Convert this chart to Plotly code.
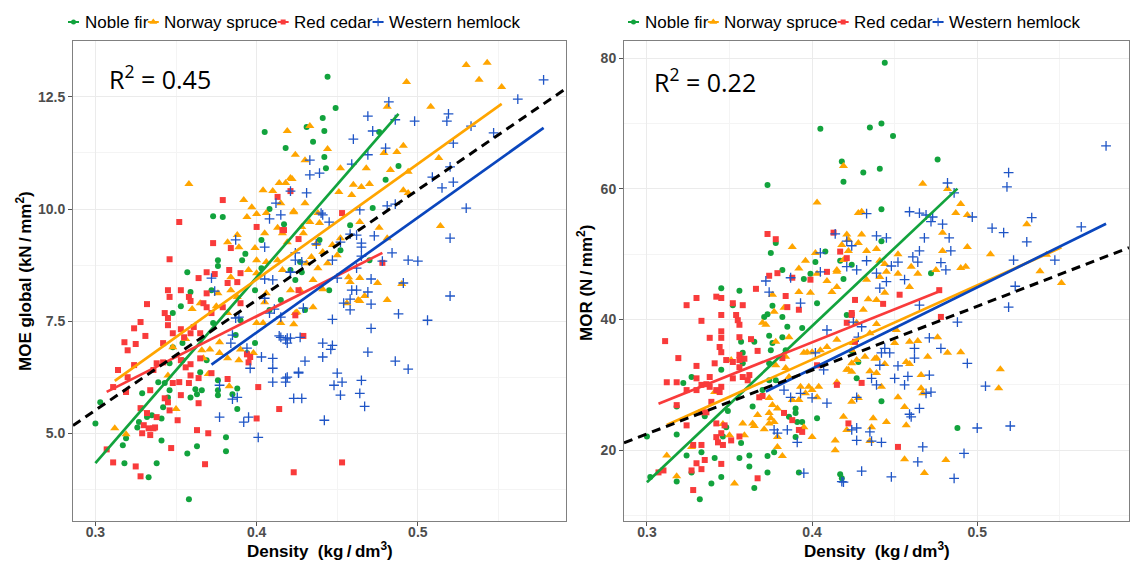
import plotly.graph_objects as go

# ---------------------------------------------------------------- data
SPECIES = ["Noble fir", "Norway spruce", "Red cedar", "Western hemlock"]

# density (kg/dm3) vs MOE global (kN/mm2)
moe_noble_fir = [
    (0.300, 5.22), (0.303, 5.69), (0.317, 4.73), (0.318, 4.33), (0.319, 4.89), (0.326, 5.13), (0.327, 5.25),
    (0.333, 4.02), (0.329, 5.89), (0.332, 5.36), (0.335, 5.40), (0.338, 4.33), (0.341, 4.84), (0.341, 5.33),
    (0.342, 5.58), (0.345, 5.80), (0.346, 5.96), (0.343, 6.12), (0.339, 6.14), (0.346, 6.56), (0.348, 6.92),
    (0.348, 7.68), (0.353, 7.83), (0.354, 6.63), (0.354, 7.01), (0.359, 5.80), (0.358, 3.53), (0.357, 4.55),
    (0.363, 4.71), (0.363, 5.87), (0.362, 5.98), (0.365, 6.36), (0.366, 5.96), (0.369, 6.63), (0.376, 6.18),
    (0.376, 5.96), (0.376, 5.85), (0.381, 4.91), (0.381, 4.60), (0.385, 5.87), (0.388, 6.00), (0.388, 5.54),
    (0.387, 7.19), (0.399, 7.01), (0.394, 6.79), (0.390, 7.52), (0.373, 7.46), (0.405, 11.72), (0.418, 11.36),
    (0.373, 9.84), (0.379, 9.82), (0.408, 10.00), (0.376, 8.86), (0.357, 8.59), (0.359, 8.15), (0.391, 8.86),
    (0.393, 9.00), (0.376, 8.73), (0.372, 8.19), (0.444, 12.95), (0.449, 12.25), (0.441, 12.03), (0.431, 11.83),
    (0.442, 11.74), (0.435, 11.50), (0.442, 11.16), (0.443, 10.91), (0.488, 10.96), (0.476, 11.72), (0.472, 10.02),
    (0.417, 9.66), (0.428, 8.59), (0.424, 8.42), (0.403, 8.68), (0.415, 7.97), (0.427, 8.82), (0.439, 9.31),
    (0.452, 9.08), (0.399, 8.19), (0.408, 7.75), (0.421, 8.64), (0.430, 7.75), (0.458, 9.64), (0.445, 8.19),
    (0.403, 9.31), (0.470, 8.86), (0.480, 10.65),
]
moe_norway_spruce = [
    (0.358, 10.56), (0.419, 11.74), (0.424, 11.21), (0.404, 10.42), (0.410, 10.40), (0.414, 10.58), (0.422, 10.67),
    (0.392, 10.20), (0.397, 10.04), (0.400, 9.89), (0.394, 9.82), (0.406, 9.91), (0.415, 10.13), (0.423, 9.95),
    (0.388, 9.42), (0.382, 9.26), (0.389, 9.15), (0.399, 9.13), (0.405, 9.46), (0.413, 9.58), (0.416, 9.46),
    (0.400, 8.86), (0.406, 8.82), (0.413, 8.86), (0.395, 8.64), (0.384, 8.48), (0.400, 8.57), (0.376, 8.12),
    (0.384, 8.19), (0.388, 8.04), (0.365, 7.90), (0.406, 8.12), (0.418, 10.58), (0.530, 13.21), (0.543, 13.26),
    (0.493, 12.83), (0.538, 12.88), (0.552, 12.72), (0.508, 12.28), (0.481, 12.28), (0.433, 11.85), (0.444, 11.34),
    (0.491, 11.41), (0.487, 11.27), (0.479, 11.25), (0.430, 11.09), (0.452, 10.91), (0.468, 10.91), (0.483, 10.87),
    (0.513, 11.14), (0.494, 10.83), (0.460, 10.54), (0.470, 10.56), (0.465, 10.49), (0.451, 10.38), (0.459, 10.31),
    (0.491, 10.42), (0.494, 10.36), (0.421, 10.69), (0.430, 10.13), (0.438, 9.91), (0.423, 9.93), (0.439, 9.69),
    (0.433, 9.71), (0.428, 9.60), (0.464, 9.71), (0.476, 9.58), (0.429, 9.46), (0.452, 9.35), (0.481, 9.35),
    (0.419, 9.26), (0.437, 9.22), (0.447, 9.20), (0.514, 9.62), (0.441, 9.04), (0.434, 8.93), (0.450, 8.97),
    (0.444, 8.79), (0.431, 8.79), (0.438, 8.68), (0.416, 8.64), (0.435, 8.42), (0.457, 8.48), (0.458, 8.37),
    (0.475, 8.35), (0.464, 8.46), (0.490, 8.33), (0.441, 8.21), (0.427, 8.19), (0.467, 8.06), (0.463, 7.97),
    (0.481, 7.97), (0.435, 7.81), (0.421, 8.19), (0.312, 5.11), (0.319, 4.98), (0.350, 5.54), (0.383, 6.05),
    (0.370, 6.32), (0.360, 7.77), (0.375, 7.83), (0.382, 7.68), (0.377, 7.03), (0.377, 6.79), (0.366, 6.85),
    (0.367, 6.67), (0.371, 6.87), (0.382, 6.67), (0.389, 6.63), (0.390, 6.87), (0.398, 6.79), (0.405, 7.92),
    (0.400, 7.46), (0.404, 7.46), (0.415, 7.46), (0.423, 7.43), (0.425, 7.70), (0.348, 6.92), (0.356, 7.10),
    (0.345, 6.29), (0.456, 7.90), (0.464, 7.95), (0.424, 7.68),
]
moe_red_cedar = [
    (0.379, 10.20), (0.352, 9.71), (0.373, 9.24), (0.346, 8.88), (0.384, 9.13), (0.400, 9.60), (0.413, 10.27),
    (0.416, 9.53), (0.421, 10.40), (0.369, 8.59), (0.374, 8.55), (0.383, 8.64), (0.364, 8.46), (0.382, 8.35),
    (0.388, 8.37), (0.390, 8.57), (0.353, 8.19), (0.345, 8.19), (0.346, 8.04), (0.358, 8.04), (0.359, 7.95),
    (0.332, 7.88), (0.367, 7.90), (0.369, 8.12), (0.379, 7.81), (0.390, 7.90), (0.343, 7.68), (0.345, 7.57),
    (0.345, 7.41), (0.348, 7.23), (0.353, 7.32), (0.355, 7.14), (0.359, 7.23), (0.361, 7.37), (0.365, 7.23),
    (0.328, 7.48), (0.324, 7.34), (0.331, 7.17), (0.325, 6.99), (0.318, 7.03), (0.320, 6.85), (0.324, 6.52),
    (0.314, 6.41), (0.311, 6.03), (0.320, 6.25), (0.319, 5.92), (0.338, 6.56), (0.342, 7.01), (0.336, 6.41),
    (0.334, 5.96), (0.342, 6.58), (0.348, 6.12), (0.352, 6.14), (0.343, 5.78), (0.345, 5.69), (0.346, 5.51),
    (0.328, 5.56), (0.332, 5.45), (0.338, 5.36), (0.330, 5.18), (0.333, 5.11), (0.336, 5.11), (0.334, 4.96),
    (0.329, 5.00), (0.337, 5.13), (0.351, 5.29), (0.347, 4.67), (0.307, 4.64), (0.311, 4.35), (0.325, 4.26),
    (0.328, 4.04), (0.363, 5.07), (0.370, 5.00), (0.368, 4.31), (0.401, 6.03), (0.400, 5.33), (0.414, 5.54),
    (0.364, 5.67), (0.353, 5.85), (0.358, 6.12), (0.359, 6.29), (0.364, 6.23), (0.372, 6.34), (0.382, 6.21),
    (0.394, 6.76), (0.395, 6.58), (0.396, 6.70), (0.372, 7.68), (0.369, 7.81), (0.365, 6.67), (0.353, 6.63),
    (0.356, 6.47), (0.359, 6.54), (0.453, 4.35), (0.423, 4.13), (0.429, 7.17), (0.424, 7.63), (0.453, 9.91),
    (0.417, 9.53), (0.426, 9.33), (0.426, 8.19), (0.478, 8.80),
]
moe_western_hemlock = [
    (0.421, 10.40), (0.412, 10.13), (0.415, 9.87), (0.408, 9.78), (0.387, 9.31), (0.405, 9.15), (0.372, 8.46),
    (0.374, 8.17), (0.405, 8.44), (0.410, 8.42), (0.424, 9.02), (0.424, 8.86), (0.421, 8.59), (0.405, 8.01),
    (0.578, 12.88), (0.562, 12.45), (0.519, 12.12), (0.518, 11.96), (0.498, 11.96), (0.486, 11.99), (0.482, 12.39),
    (0.469, 12.07), (0.472, 11.74), (0.460, 11.56), (0.533, 11.85), (0.547, 11.70), (0.522, 11.47), (0.480, 11.36),
    (0.469, 11.21), (0.433, 11.09), (0.459, 11.00), (0.439, 10.80), (0.433, 10.76), (0.520, 10.94), (0.509, 10.71),
    (0.515, 10.47), (0.522, 10.60), (0.431, 10.36), (0.481, 10.07), (0.486, 10.11), (0.464, 9.98), (0.530, 10.02),
    (0.440, 9.91), (0.441, 9.87), (0.445, 9.71), (0.458, 9.44), (0.462, 9.42), (0.473, 9.40), (0.465, 9.24),
    (0.465, 9.15), (0.437, 9.22), (0.452, 9.26), (0.520, 9.35), (0.484, 9.02), (0.465, 8.95), (0.447, 8.86),
    (0.428, 8.82), (0.478, 8.84), (0.494, 8.86), (0.500, 8.84), (0.421, 8.59), (0.462, 8.68), (0.450, 8.46),
    (0.471, 8.44), (0.491, 8.35), (0.520, 8.06), (0.459, 8.19), (0.462, 8.19), (0.469, 8.15), (0.458, 7.99),
    (0.454, 7.90), (0.471, 7.88), (0.429, 7.79), (0.488, 7.66), (0.506, 7.52), (0.471, 7.34), (0.458, 7.75),
    (0.447, 7.54), (0.441, 7.01), (0.447, 6.96), (0.446, 6.87), (0.441, 6.70), (0.469, 6.81), (0.486, 6.61),
    (0.494, 6.43), (0.430, 6.61), (0.426, 6.34), (0.419, 6.25), (0.418, 6.14), (0.450, 6.34), (0.448, 6.07),
    (0.453, 6.14), (0.465, 6.18), (0.464, 5.89), (0.452, 5.85), (0.423, 5.78), (0.428, 5.78), (0.467, 5.60),
    (0.442, 5.29), (0.419, 7.12), (0.415, 7.14), (0.427, 7.14), (0.419, 7.01), (0.384, 7.01), (0.394, 6.90),
    (0.396, 6.45), (0.403, 6.70), (0.410, 6.67), (0.410, 6.45), (0.410, 6.14), (0.418, 6.23), (0.426, 6.36),
    (0.421, 7.12), (0.418, 7.08), (0.414, 7.17), (0.408, 7.68), (0.411, 7.77), (0.415, 7.59), (0.377, 6.07),
    (0.385, 5.76), (0.388, 5.80), (0.377, 5.36), (0.395, 5.36), (0.392, 5.25), (0.401, 4.91), (0.385, 7.19),
    (0.389, 7.59), (0.387, 7.57),
]

# density (kg/dm3) vs MOR (N/mm2)
mor_noble_fir = [
    (0.405, 69.2), (0.418, 64.2), (0.419, 61.1), (0.373, 60.6), (0.378, 51.7), (0.375, 50.2), (0.408, 50.4),
    (0.402, 48.8), (0.382, 47.6), (0.395, 46.2), (0.399, 47.0), (0.417, 49.0), (0.419, 46.2), (0.424, 48.4),
    (0.345, 44.8), (0.444, 79.3), (0.435, 69.4), (0.442, 70.0), (0.449, 68.1), (0.476, 64.5), (0.431, 62.5),
    (0.441, 63.1), (0.442, 56.9), (0.442, 52.0), (0.472, 47.1), (0.300, 22.1), (0.302, 15.9), (0.318, 15.2),
    (0.318, 22.4), (0.318, 26.7), (0.324, 19.2), (0.327, 16.6), (0.333, 19.7), (0.332, 12.5), (0.335, 25.2),
    (0.339, 14.9), (0.322, 30.3), (0.327, 31.2), (0.345, 32.3), (0.349, 26.0), (0.348, 23.5), (0.345, 15.9),
    (0.341, 18.8), (0.346, 22.1), (0.356, 18.8), (0.357, 21.1), (0.362, 17.5), (0.362, 19.2), (0.364, 26.7),
    (0.365, 14.2), (0.357, 36.6), (0.358, 33.3), (0.358, 34.9), (0.352, 42.2), (0.356, 44.4), (0.365, 36.6),
    (0.371, 40.4), (0.373, 40.8), (0.374, 37.5), (0.375, 35.3), (0.374, 33.3), (0.374, 30.7), (0.378, 30.7),
    (0.370, 29.2), (0.373, 19.1), (0.377, 19.7), (0.373, 16.6), (0.386, 25.1), (0.391, 24.3), (0.394, 24.3),
    (0.403, 24.9), (0.390, 22.0), (0.392, 16.6), (0.390, 25.7), (0.376, 42.1), (0.382, 40.4), (0.385, 38.9),
    (0.382, 37.3), (0.384, 35.3), (0.376, 36.4), (0.390, 26.4), (0.394, 38.7), (0.403, 42.5), (0.421, 40.7),
    (0.417, 16.3), (0.418, 15.7), (0.442, 27.5), (0.488, 23.4), (0.428, 33.5), (0.424, 35.2), (0.427, 31.0),
]
mor_norway_spruce = [
    (0.419, 63.5), (0.403, 57.9), (0.421, 53.0), (0.422, 52.2), (0.428, 51.7), (0.418, 51.4), (0.388, 51.1),
    (0.402, 50.2), (0.422, 50.5), (0.396, 49.0), (0.392, 47.8), (0.415, 47.6), (0.403, 47.0), (0.415, 47.3),
    (0.419, 49.1), (0.409, 45.9), (0.415, 45.0), (0.428, 56.3), (0.467, 60.8), (0.482, 60.0), (0.490, 57.7),
    (0.487, 56.3), (0.494, 56.0), (0.430, 56.5), (0.530, 54.6), (0.430, 53.0), (0.479, 53.3), (0.433, 50.5),
    (0.439, 50.8), (0.452, 50.0), (0.479, 50.5), (0.494, 51.1), (0.508, 50.0), (0.441, 49.0), (0.444, 48.5),
    (0.460, 48.1), (0.475, 47.6), (0.490, 47.9), (0.493, 48.1), (0.538, 47.4), (0.542, 49.9), (0.445, 47.3),
    (0.441, 46.5), (0.452, 47.0), (0.464, 47.0), (0.551, 45.6), (0.459, 45.0), (0.433, 46.1), (0.444, 44.1),
    (0.434, 43.1), (0.439, 43.0), (0.431, 41.5), (0.439, 39.3), (0.435, 37.9), (0.424, 35.3), (0.425, 36.4),
    (0.450, 36.4), (0.451, 38.4), (0.459, 36.6), (0.464, 36.7), (0.476, 37.3), (0.482, 34.9), (0.490, 35.0),
    (0.470, 34.3), (0.457, 33.5), (0.459, 33.2), (0.439, 34.1), (0.438, 34.0), (0.444, 33.2), (0.432, 34.3),
    (0.427, 33.8), (0.422, 32.3), (0.435, 32.1), (0.439, 31.8), (0.442, 29.7), (0.466, 31.5), (0.466, 29.5),
    (0.467, 28.7), (0.452, 28.1), (0.456, 26.6), (0.428, 28.0), (0.424, 27.4), (0.437, 24.9), (0.436, 23.5),
    (0.445, 24.3), (0.457, 23.8), (0.435, 21.4), (0.456, 18.6), (0.468, 16.5), (0.481, 18.5), (0.514, 32.4),
    (0.513, 29.5), (0.312, 19.2), (0.318, 16.0), (0.327, 20.5), (0.346, 24.0), (0.350, 22.3), (0.353, 14.9),
    (0.341, 28.9), (0.351, 33.8), (0.358, 24.1), (0.364, 24.1), (0.365, 23.7), (0.359, 22.3), (0.367, 25.4),
    (0.371, 23.2), (0.374, 25.7), (0.375, 24.9), (0.374, 24.1), (0.377, 24.3), (0.379, 20.5), (0.382, 19.1),
    (0.379, 22.0), (0.370, 39.5), (0.372, 39.2), (0.377, 41.2), (0.383, 41.8), (0.386, 37.3), (0.378, 36.6),
    (0.384, 34.3), (0.378, 33.0), (0.384, 32.6), (0.386, 31.2), (0.388, 27.7), (0.374, 28.0), (0.376, 26.9),
    (0.379, 26.4), (0.393, 29.7), (0.392, 27.7), (0.398, 29.7), (0.396, 28.7), (0.400, 29.2), (0.403, 28.1),
    (0.404, 29.7), (0.397, 35.0), (0.395, 34.9), (0.400, 35.0), (0.405, 35.3), (0.400, 22.0), (0.395, 23.5),
    (0.415, 30.4), (0.415, 36.9), (0.409, 35.8), (0.421, 32.3), (0.424, 32.0), (0.424, 33.3), (0.427, 39.5),
    (0.419, 25.1), (0.421, 23.1), (0.414, 21.5), (0.414, 20.0), (0.376, 43.8), (0.392, 44.2), (0.399, 44.1),
    (0.412, 44.2),
]
mor_red_cedar = [
    (0.373, 53.1), (0.378, 52.3), (0.413, 53.3), (0.417, 50.4), (0.421, 49.4), (0.374, 46.7), (0.379, 47.1),
    (0.388, 46.4), (0.399, 46.1), (0.409, 47.3), (0.366, 44.7), (0.311, 36.7), (0.312, 30.4), (0.318, 30.4),
    (0.319, 34.1), (0.318, 26.9), (0.324, 29.2), (0.324, 42.2), (0.330, 43.3), (0.333, 39.8), (0.338, 37.2),
    (0.330, 32.9), (0.330, 31.0), (0.330, 29.2), (0.333, 30.0), (0.338, 31.2), (0.338, 29.7), (0.336, 30.1),
    (0.342, 29.2), (0.344, 28.9), (0.345, 29.7), (0.341, 33.3), (0.345, 35.0), (0.344, 35.8), (0.345, 37.2),
    (0.342, 43.5), (0.345, 43.3), (0.345, 40.7), (0.345, 38.2), (0.352, 42.5), (0.354, 40.7), (0.355, 39.9),
    (0.356, 39.2), (0.356, 37.3), (0.358, 42.2), (0.363, 37.0), (0.367, 35.2), (0.356, 34.6), (0.356, 33.8),
    (0.356, 32.7), (0.359, 34.0), (0.352, 33.5), (0.352, 31.0), (0.358, 31.2), (0.361, 30.7), (0.362, 31.5),
    (0.348, 33.8), (0.336, 25.8), (0.333, 25.8), (0.339, 27.4), (0.342, 24.1), (0.345, 22.6), (0.347, 23.8),
    (0.342, 22.0), (0.343, 21.2), (0.346, 20.8), (0.351, 21.5), (0.356, 22.1), (0.333, 20.8), (0.328, 20.8),
    (0.330, 18.0), (0.333, 17.1), (0.335, 18.5), (0.345, 17.9), (0.327, 16.9), (0.328, 13.9), (0.310, 16.9),
    (0.307, 16.6), (0.324, 23.8), (0.367, 15.7), (0.368, 28.1), (0.370, 28.3), (0.382, 34.1), (0.383, 25.7),
    (0.388, 24.6), (0.392, 23.1), (0.394, 22.8), (0.403, 33.0), (0.415, 30.0), (0.424, 41.0), (0.421, 39.5),
    (0.384, 43.6), (0.385, 41.9), (0.392, 41.5), (0.426, 43.0), (0.424, 40.7), (0.453, 43.8), (0.443, 42.4),
    (0.478, 40.4), (0.426, 36.6), (0.430, 30.3), (0.422, 24.1), (0.452, 20.5), (0.477, 44.5),
]
mor_western_hemlock = [
    (0.414, 53.1), (0.421, 52.0), (0.424, 51.3), (0.405, 50.2), (0.421, 48.1), (0.405, 47.3), (0.387, 46.4),
    (0.372, 45.9), (0.427, 47.6), (0.578, 66.6), (0.519, 62.5), (0.518, 60.3), (0.482, 60.9), (0.486, 59.4),
    (0.459, 56.5), (0.465, 56.3), (0.469, 56.0), (0.473, 55.7), (0.472, 55.0), (0.479, 54.6), (0.497, 55.7),
    (0.533, 55.6), (0.530, 51.9), (0.509, 54.0), (0.516, 53.3), (0.563, 54.2), (0.433, 56.2), (0.439, 52.8),
    (0.445, 52.5), (0.468, 52.5), (0.483, 52.5), (0.465, 50.5), (0.484, 50.5), (0.461, 49.6), (0.464, 48.8),
    (0.433, 49.0), (0.452, 48.8), (0.448, 48.2), (0.478, 48.7), (0.481, 47.6), (0.439, 47.1), (0.441, 44.8),
    (0.456, 46.1), (0.445, 45.8), (0.522, 49.1), (0.547, 49.1), (0.523, 45.1), (0.519, 41.9), (0.488, 39.6),
    (0.494, 33.3), (0.505, 29.8), (0.520, 23.7), (0.500, 23.4), (0.492, 19.5), (0.467, 20.5), (0.464, 18.2),
    (0.486, 15.7), (0.448, 15.9), (0.430, 16.8), (0.427, 21.5), (0.436, 21.4), (0.442, 21.2), (0.424, 23.1),
    (0.427, 23.4), (0.435, 22.8), (0.427, 28.1), (0.439, 30.0), (0.436, 31.0), (0.450, 31.0), (0.456, 30.0),
    (0.465, 26.4), (0.459, 25.5), (0.460, 25.1), (0.472, 28.9), (0.469, 28.7), (0.471, 31.5), (0.458, 31.3),
    (0.452, 32.9), (0.462, 34.1), (0.441, 33.0), (0.447, 34.9), (0.442, 34.9), (0.428, 37.3), (0.430, 38.9),
    (0.425, 39.6), (0.444, 35.6), (0.462, 35.6), (0.471, 37.2), (0.478, 35.6), (0.465, 42.2), (0.393, 42.5),
    (0.409, 38.4), (0.407, 32.3), (0.409, 27.2), (0.393, 28.7), (0.387, 28.1), (0.383, 29.2), (0.400, 28.0),
    (0.402, 34.9), (0.377, 23.1), (0.379, 22.6), (0.385, 23.1), (0.391, 21.2), (0.395, 16.5), (0.374, 44.2),
    (0.419, 15.1), (0.418, 15.2),
]

# linear fits per species (intercept, slope), same order as SPECIES
moe_fit_intercept = [-8.10, -1.86, 0.36, -3.005]
moe_fit_slope = [41.44, 25.73, 18.12, 25.63]
mor_fit_intercept = [-56.64, -11.63, -3.93, -17.36]
mor_fit_slope = [239.1, 113.75, 101.1, 124.6]
# pooled fit over all species (intercept, slope)
moe_pooled_fit = [-1.857, 24.57]
mor_pooled_fit = [-6.82, 97.7]
moe_r2 = "0.45"
mor_r2 = "0.22"

moe_y_ticks = [5.0, 7.5, 10.0, 12.5]
mor_y_ticks = [20, 40, 60, 80]
density_ticks = [0.3, 0.4, 0.5]

# ---------------------------------------------------------------- style
COLORS = ["#12a33d", "#ffa500", "#f93b3b", "#1f55c6"]
LINE_COLORS = ["#12a33d", "#ffa500", "#f93b3b", "#0a46bd"]
SYMBOLS = ["circle", "triangle-up", "square", "cross-thin"]
SIZES = [6, 8, 6, 7]

W, H = 1136, 565
TOP, BOTTOM = 41, 521
PANELS = [(73, 566), (624, 1129)]
FONT = "Liberation Sans, Arial, sans-serif"

moe_sets = [moe_noble_fir, moe_norway_spruce, moe_red_cedar, moe_western_hemlock]
mor_sets = [mor_noble_fir, mor_norway_spruce, mor_red_cedar, mor_western_hemlock]


def padded(lo, hi, f=0.05):
    d = (hi - lo) * f
    return [lo - d, hi + d]


fig = go.Figure()


def add_panel(sets, intercepts, slopes, pooled, xa, ya):
    xs_all = [p[0] for s in sets for p in s]
    ys_all = [p[1] for s in sets for p in s]
    xr = padded(min(xs_all), max(xs_all))
    yr = padded(min(ys_all), max(ys_all))
    for i, pts in enumerate(sets):
        xs = [p[0] for p in pts]
        ys = [p[1] for p in pts]
        if SYMBOLS[i] == "cross-thin":
            marker = dict(symbol="cross-thin", size=SIZES[i],
                          line=dict(width=1.3, color=COLORS[i]), color=COLORS[i])
        else:
            marker = dict(symbol=SYMBOLS[i], size=SIZES[i], color=COLORS[i], line=dict(width=0))
        fig.add_trace(go.Scatter(x=xs, y=ys, mode="markers", marker=marker,
                                 name=SPECIES[i], showlegend=False, xaxis=xa, yaxis=ya))
    for i, pts in enumerate(sets):
        xs = [p[0] for p in pts]
        lx = [min(xs), max(xs)]
        ly = [intercepts[i] + slopes[i] * v for v in lx]
        fig.add_trace(go.Scatter(x=lx, y=ly, mode="lines",
                                 line=dict(color=LINE_COLORS[i], width=2.7),
                                 showlegend=False, xaxis=xa, yaxis=ya, hoverinfo="skip"))
    py_ = [pooled[0] + pooled[1] * v for v in xr]
    fig.add_trace(go.Scatter(x=xr, y=py_, mode="lines",
                             line=dict(color="black", width=3, dash="9px,6px"),
                             showlegend=False, xaxis=xa, yaxis=ya, hoverinfo="skip"))
    return xr, yr


xr1, yr1 = add_panel(moe_sets, moe_fit_intercept, moe_fit_slope, moe_pooled_fit, "x", "y")
xr2, yr2 = add_panel(mor_sets, mor_fit_intercept, mor_fit_slope, mor_pooled_fit, "x2", "y2")

tickfont = dict(family=FONT, size=14, color="#4d4d4d", weight="bold")
common_axis = dict(showline=True, linecolor="#808080", linewidth=1, mirror=True,
                   ticks="outside", ticklen=4, tickwidth=1, tickcolor="#555555",
                   showgrid=True, gridcolor="#ebebeb", gridwidth=1,
                   zeroline=False, tickfont=tickfont)
x_minor = dict(dtick=0.05, tick0=0.3, showgrid=True, gridcolor="#f4f4f4", gridwidth=1, ticks="")


def xdomain(p):
    return [p[0] / W, p[1] / W]


ydomain = [1 - BOTTOM / H, 1 - TOP / H]

fig.update_layout(
    xaxis=dict(domain=xdomain(PANELS[0]), range=xr1, anchor="y", tickvals=density_ticks,
               ticktext=[f"{v:.1f}" for v in density_ticks], minor=x_minor,
               ticklabelstandoff=-6, **common_axis),
    yaxis=dict(domain=ydomain, range=yr1, anchor="x", tickvals=moe_y_ticks,
               ticktext=[f"{v:.1f}" for v in moe_y_ticks],
               minor=dict(dtick=1.25, tick0=0, showgrid=True, gridcolor="#f4f4f4", gridwidth=1, ticks=""),
               **common_axis),
    xaxis2=dict(domain=xdomain(PANELS[1]), range=xr2, anchor="y2", tickvals=density_ticks,
                ticktext=[f"{v:.1f}" for v in density_ticks], minor=x_minor,
                ticklabelstandoff=-6, **common_axis),
    yaxis2=dict(domain=ydomain, range=yr2, anchor="x2", tickvals=mor_y_ticks,
                ticktext=[str(v) for v in mor_y_ticks],
                minor=dict(dtick=10, tick0=0, showgrid=True, gridcolor="#f4f4f4", gridwidth=1, ticks=""),
                **common_axis),
    # pixel-space overlay used for the species keys above each panel
    xaxis3=dict(domain=[0, 1], range=[0, W], visible=False, fixedrange=True, anchor="y3"),
    yaxis3=dict(domain=[0, 1], range=[H, 0], visible=False, fixedrange=True, anchor="x3"),
    width=W, height=H, margin=dict(l=0, r=0, t=0, b=0),
    paper_bgcolor="white", plot_bgcolor="rgba(0,0,0,0)",
    showlegend=False,
)

# ---------------------------------------------------------------- species keys
ARIAL_W = {"N": 722, "o": 556, "b": 556, "l": 222, "e": 556, " ": 278, "f": 278, "i": 222,
           "r": 333, "w": 722, "a": 556, "y": 500, "s": 500, "p": 556, "u": 556, "c": 500,
           "R": 722, "d": 556, "W": 944, "t": 278, "n": 556, "h": 556, "m": 833, "k": 500}
KEY_FONT = 17


def text_w(s):
    return sum(ARIAL_W.get(ch, 556) for ch in s) * KEY_FONT / 1000


annotations = []
for start in (68, 628):
    kx = start
    ky = 22
    for i, name in enumerate(SPECIES):
        fig.add_trace(go.Scatter(x=[kx, kx + 11], y=[ky, ky], mode="lines",
                                 line=dict(color=LINE_COLORS[i], width=2),
                                 xaxis="x3", yaxis="y3", hoverinfo="skip", showlegend=False))
        if SYMBOLS[i] == "cross-thin":
            km = dict(symbol="cross-thin", size=6, line=dict(width=1.2, color=COLORS[i]))
        else:
            km = dict(symbol=SYMBOLS[i], size=SIZES[i] - 1, color=COLORS[i])
        fig.add_trace(go.Scatter(x=[kx + 5.5], y=[ky], mode="markers", marker=km,
                                 xaxis="x3", yaxis="y3", hoverinfo="skip", showlegend=False))
        tx = kx + 14.5
        annotations.append(dict(x=tx, y=ky, xref="x3", yref="y3", text=name, showarrow=False,
                                xanchor="left", yanchor="middle",
                                font=dict(family=FONT, size=KEY_FONT, color="black")))
        kx = tx + text_w(name) + 2

# ---------------------------------------------------------------- titles
title_font = dict(family=FONT, size=17, color="black", weight="bold")
nb = "\u00a0"
thin = "\u2009"
annotations += [
    dict(x=(PANELS[0][0] + PANELS[0][1]) / 2 / W, y=1 - 550 / H, xref="paper", yref="paper",
         text=f"Density{nb}{nb}(kg{thin}/{thin}dm<sup>3</sup>)", showarrow=False,
         xanchor="center", yanchor="middle", font=title_font),
    dict(x=(PANELS[1][0] + PANELS[1][1]) / 2 / W, y=1 - 550 / H, xref="paper", yref="paper",
         text=f"Density{nb}{nb}(kg{thin}/{thin}dm<sup>3</sup>)", showarrow=False,
         xanchor="center", yanchor="middle", font=title_font),
    dict(x=24 / W, y=1 - 281 / H, xref="paper", yref="paper", textangle=-90,
         text=f"MOE global (kN{thin}/{thin}mm<sup>2</sup>)", showarrow=False,
         xanchor="center", yanchor="middle", font=title_font),
    dict(x=585 / W, y=1 - 283 / H, xref="paper", yref="paper", textangle=-90,
         text=f"MOR (N{thin}/{thin}mm<sup>2</sup>)", showarrow=False,
         xanchor="center", yanchor="middle", font=title_font),
    dict(x=107 / W, y=1 - 78 / H, xref="paper", yref="paper",
         text=f"R<sup>2</sup> = {moe_r2}", showarrow=False, xanchor="left", yanchor="middle",
         font=dict(family="Open Sans, Noto Sans, sans-serif", size=25, color="black")),
    dict(x=652 / W, y=1 - 81 / H, xref="paper", yref="paper",
         text=f"R<sup>2</sup> = {mor_r2}", showarrow=False, xanchor="left", yanchor="middle",
         font=dict(family="Open Sans, Noto Sans, sans-serif", size=25, color="black")),
]
fig.update_layout(annotations=annotations)

fig.write_html("out.html")
